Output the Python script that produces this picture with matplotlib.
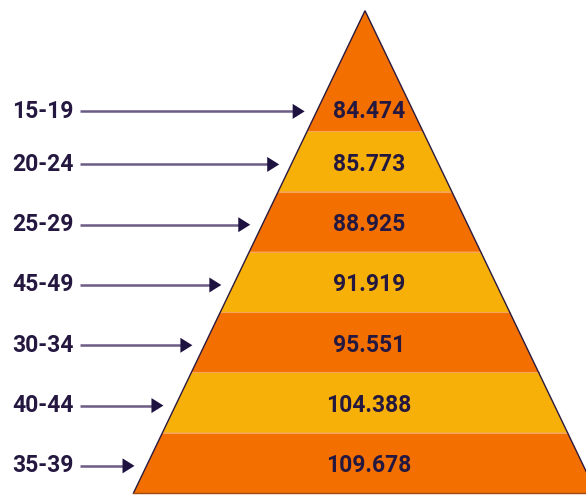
import matplotlib
matplotlib.use("Agg")
import matplotlib.pyplot as plt
from matplotlib.patches import Polygon

# ---- data ----
age_groups = ["15-19", "20-24", "25-29", "45-49", "30-34", "40-44", "35-39"]
values = [84.474, 85.773, 88.925, 91.919, 95.551, 104.388, 109.678]

# ---- style ----
band_colors = ["#F37000", "#F7B008"]
text_color = "#251840"
line_color = "#6B5B85"
head_color = "#1E1240"
outline_color = "#2A1A40"
font = ["Roboto", "DejaVu Sans"]

W, H = 586, 495
fig = plt.figure(figsize=(W / 100, H / 100), dpi=100)
ax = fig.add_axes([0, 0, 1, 1])
ax.set_xlim(0, W)
ax.set_ylim(H, 0)
ax.axis("off")

# pyramid geometry (pixel layout)
apex_x, apex_y, base_y = 365.0, 10.7, 493.0
slope = 0.48
n = len(values)
unit = (base_y - apex_y) / (n + 1)


def left_x(y):
    return apex_x - slope * (y - apex_y)


def right_x(y):
    return apex_x + slope * (y - apex_y)


for i, (grp, val) in enumerate(zip(age_groups, values)):
    top = apex_y if i == 0 else apex_y + unit * (i + 1)
    bot = apex_y + unit * (i + 2)
    if i == 0:
        pts = [(apex_x, top), (right_x(bot), bot), (left_x(bot), bot)]
    else:
        pts = [(left_x(top), top), (right_x(top), top), (right_x(bot), bot), (left_x(bot), bot)]
    ax.add_patch(Polygon(pts, closed=True, facecolor=band_colors[i % 2], edgecolor="none", zorder=1))
    if i > 0:
        ax.plot([left_x(top), right_x(top)], [top, top], color="#F8A55A", lw=0.8, zorder=2)

    ty = bot - 0.33 * unit if i == 0 else bot - unit / 2 + 3
    ax.text(apex_x + 4, ty, f"{val:.3f}", ha="center", va="center", fontsize=16.5,
            fontweight="bold", color=text_color, family=font, zorder=4)

    # label + arrow
    ax.text(12, ty, grp, ha="left", va="center", fontsize=16.5, fontweight="bold",
            color=text_color, family=font, zorder=4)
    tip = left_x(ty) - 12
    ax.plot([80, tip - 10], [ty, ty], color=line_color, lw=1.8, solid_capstyle="butt", zorder=3)
    ax.add_patch(Polygon([(tip, ty), (tip - 12, ty - 7.5), (tip - 12, ty + 7.5)], closed=True,
                         facecolor=head_color, edgecolor="none", zorder=3))

# outline
ax.plot([left_x(base_y), apex_x, right_x(base_y)], [base_y, apex_y, base_y],
        color=outline_color, lw=1.0, zorder=5, solid_joinstyle="miter")
ax.plot([left_x(base_y), right_x(base_y)], [base_y, base_y], color="#A04A10", lw=1.0, zorder=5)

fig.savefig("out.png", dpi=100)
